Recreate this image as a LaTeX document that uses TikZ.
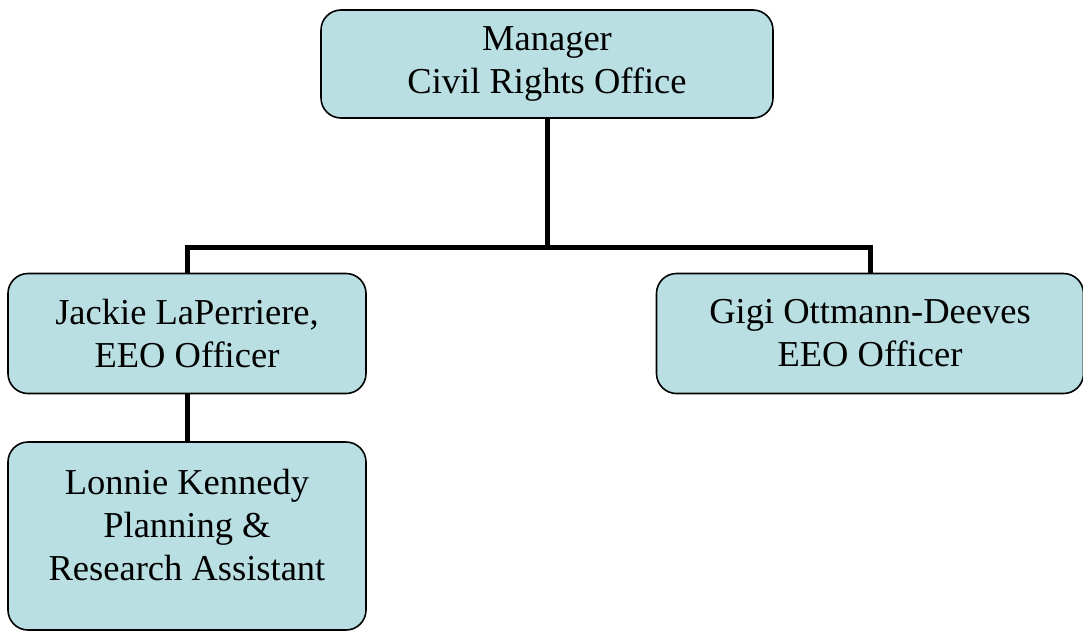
\documentclass[tikz,border=0pt]{standalone}
\usepackage{fontspec}
\setmainfont{Liberation Serif}
\usetikzlibrary{positioning}
\definecolor{boxfill}{RGB}{185, 223, 227}

\begin{document}
\begin{tikzpicture}[x=1pt, y=-1pt,
		office/.style={draw=black, fill=boxfill, line width=1.6pt, rounded corners=20pt, align=center, inner sep=0pt,
			font=\fontsize{36.5}{43}\selectfont},
		conn/.style={line width=5pt, line join=miter}]
			\useasboundingbox (0, 0) rectangle (1083, 632);
			\node[office, minimum width=452pt, minimum height=108pt] (manager) at (547, 64) {Manager\\Civil Rights Office};
			\node[office, minimum width=358pt, minimum height=120pt] (jackie) at (187, 333.5) {Jackie LaPerriere,\\EEO Officer};
			\node[office, minimum width=427pt, minimum height=120pt] (gigi) at (870, 333.5) {Gigi Ottmann-Deeves\\EEO Officer};
			\node[office, minimum width=358pt, minimum height=188pt] (lonnie) at (187, 536) {Lonnie Kennedy\\Planning \&\\Research Assistant\\[-20pt]\mbox{}};
			\coordinate (bus) at (547, 247);
			\draw[conn] (manager.south) -- (bus);
			\draw[conn] (jackie.north) |- (bus) -| (gigi.north);
			\draw[conn] (jackie.south) -- (lonnie.north);
		\end{tikzpicture}
\end{document}
